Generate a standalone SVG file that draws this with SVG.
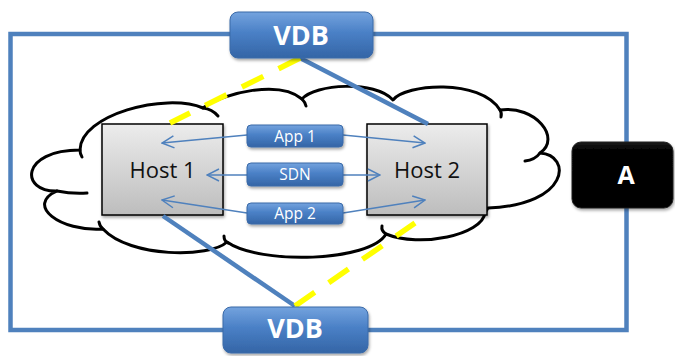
<svg xmlns="http://www.w3.org/2000/svg" width="675" height="356" viewBox="0 0 675 356">
  <defs>
    <linearGradient id="blueBox" x1="0" y1="0" x2="0" y2="1">
      <stop offset="0" stop-color="#74a3de"/>
      <stop offset="0.45" stop-color="#4a80c6"/>
      <stop offset="1" stop-color="#3465a6"/>
    </linearGradient>
    <linearGradient id="grayBox" x1="0" y1="0" x2="0" y2="1">
      <stop offset="0" stop-color="#ececec"/>
      <stop offset="1" stop-color="#bdbdbd"/>
    </linearGradient>
    <linearGradient id="blackBox" x1="0" y1="0" x2="0" y2="1">
      <stop offset="0" stop-color="#1c1c1c"/>
      <stop offset="0.12" stop-color="#020202"/>
      <stop offset="1" stop-color="#000000"/>
    </linearGradient>
    <filter id="shadow" x="-20%" y="-20%" width="140%" height="150%">
      <feDropShadow dx="1" dy="2" stdDeviation="1.5" flood-color="#000" flood-opacity="0.35"/>
    </filter>
    <marker id="open" viewBox="0 0 14 14" refX="13" refY="7" markerWidth="14" markerHeight="14" markerUnits="userSpaceOnUse" orient="auto">
      <path d="M1,1 L13,7 L1,13" fill="none" stroke="#4f81bd" stroke-width="1.5"/>
    </marker>
    <style>
      .cloud { fill: #ffffff; stroke: #000; stroke-width: 3; stroke-linejoin: round; }
      .hook { fill: none; stroke: #000; stroke-width: 3; stroke-linecap: round; }
      .frame { fill: none; stroke: #4f81bd; stroke-width: 4.5; }
      .thick { stroke: #4f81bd; stroke-width: 4.5; }
      .dash { stroke: #ffff00; stroke-width: 5.5; stroke-dasharray: 24 17; }
      .thin { stroke: #4f81bd; stroke-width: 1.5; fill: none; marker-end: url(#open); }
      .vdb { fill: url(#blueBox); stroke: #3a6aa8; stroke-width: 1; filter: url(#shadow); }
      .app { fill: url(#blueBox); stroke: #3a6aa8; stroke-width: 1; filter: url(#shadow); }
      .host { fill: url(#grayBox); stroke: #000; stroke-width: 1.5; filter: url(#shadow); }
      .abox { fill: url(#blackBox); stroke: #222; stroke-width: 1; filter: url(#shadow); }
      .big { font-family: "Open Sans", "Liberation Sans", sans-serif; font-weight: bold; fill: #fff; text-anchor: middle; }
      .hostText { font-family: "Open Sans", "Liberation Sans", sans-serif; font-size: 22px; fill: #111; text-anchor: middle; }
      .appText { font-family: "Open Sans", "Liberation Sans", sans-serif; font-size: 15.5px; fill: #fff; text-anchor: middle; }
    </style>
  </defs>

  <rect width="675" height="356" fill="#ffffff"/>

  <!-- cloud -->
  <g id="cloud">
    <path class="cloud" d="M80,150
      C80,115 165,92 203,108
      C225,92 280,80 302,99
      C315,84 375,80 393,100
      C405,84 480,78 500,110
      C535,105 562,138 540,153
      C572,155 570,205 488,208
      L485,213
      C482,235 420,248 386,234
      C370,262 260,265 227,242
      C210,258 130,258 103,229
      C60,232 25,205 57,191
      C20,192 20,150 80,150 Z"/>
    <path class="hook" d="M203,108 Q212,109 218,116"/>
    <path class="hook" d="M302,99 Q305,102 306,106"/>
    <path class="hook" d="M500,110 Q502,113 501,117"/>
    <path class="hook" d="M540,153 Q535,160 525,161"/>
    <path class="hook" d="M386,234 Q381,231 382,226"/>
    <path class="hook" d="M228,243 Q224,241 224,236"/>
    <path class="hook" d="M103,229 Q100,227 99,222"/>
    <path class="hook" d="M57,191 Q72,194 87,193"/>
    <path class="hook" d="M80,150 Q80,154 82,157"/>
  </g>

  <!-- hosts -->
  <g id="host1">
    <rect class="host" x="102" y="124" width="121" height="91"/>
    <text class="hostText" x="162.5" y="178">Host 1</text>
  </g>
  <g id="host2">
    <rect class="host" x="367" y="124" width="120" height="91"/>
    <text class="hostText" x="427" y="178">Host 2</text>
  </g>

  <!-- connectors -->
  <g id="connectors">
    <rect class="frame" x="10.5" y="34" width="616" height="296"/>
    <line class="thick" x1="300" y1="58" x2="428" y2="124"/>
    <line class="thick" x1="163" y1="216" x2="295" y2="306"/>
    <line class="dash" x1="300" y1="58" x2="170" y2="123"/>
    <line class="dash" x1="295" y1="306" x2="415" y2="223"/>
    <line class="thin" x1="247" y1="135" x2="162" y2="143"/>
    <line class="thin" x1="343" y1="135" x2="425" y2="143"/>
    <line class="thin" x1="247" y1="175" x2="207" y2="175"/>
    <line class="thin" x1="343" y1="175" x2="380" y2="175"/>
    <line class="thin" x1="247" y1="213" x2="162" y2="200"/>
    <line class="thin" x1="343" y1="213" x2="425" y2="200"/>
  </g>

  <!-- databases and nodes on the ring -->
  <g id="vdb-top">
    <rect class="vdb" x="230" y="12" width="143" height="46" rx="8"/>
    <text class="big" x="301" y="45" font-size="27">VDB</text>
  </g>
  <g id="vdb-bottom">
    <rect class="vdb" x="223" y="307" width="145" height="46" rx="8"/>
    <text class="big" x="295" y="338" font-size="27">VDB</text>
  </g>
  <g id="node-a">
    <rect class="abox" x="572" y="142" width="101" height="66" rx="9"/>
    <text class="big" x="626" y="184" font-size="25">A</text>
  </g>

  <!-- traffic labels -->
  <g id="app1">
    <rect class="app" x="247" y="125" width="96" height="22" rx="4"/>
    <text class="appText" x="295" y="142">App 1</text>
  </g>
  <g id="sdn">
    <rect class="app" x="247" y="163" width="96" height="23" rx="4"/>
    <text class="appText" x="295" y="180">SDN</text>
  </g>
  <g id="app2">
    <rect class="app" x="247" y="203" width="96" height="21" rx="4"/>
    <text class="appText" x="295" y="219">App 2</text>
  </g>
</svg>
